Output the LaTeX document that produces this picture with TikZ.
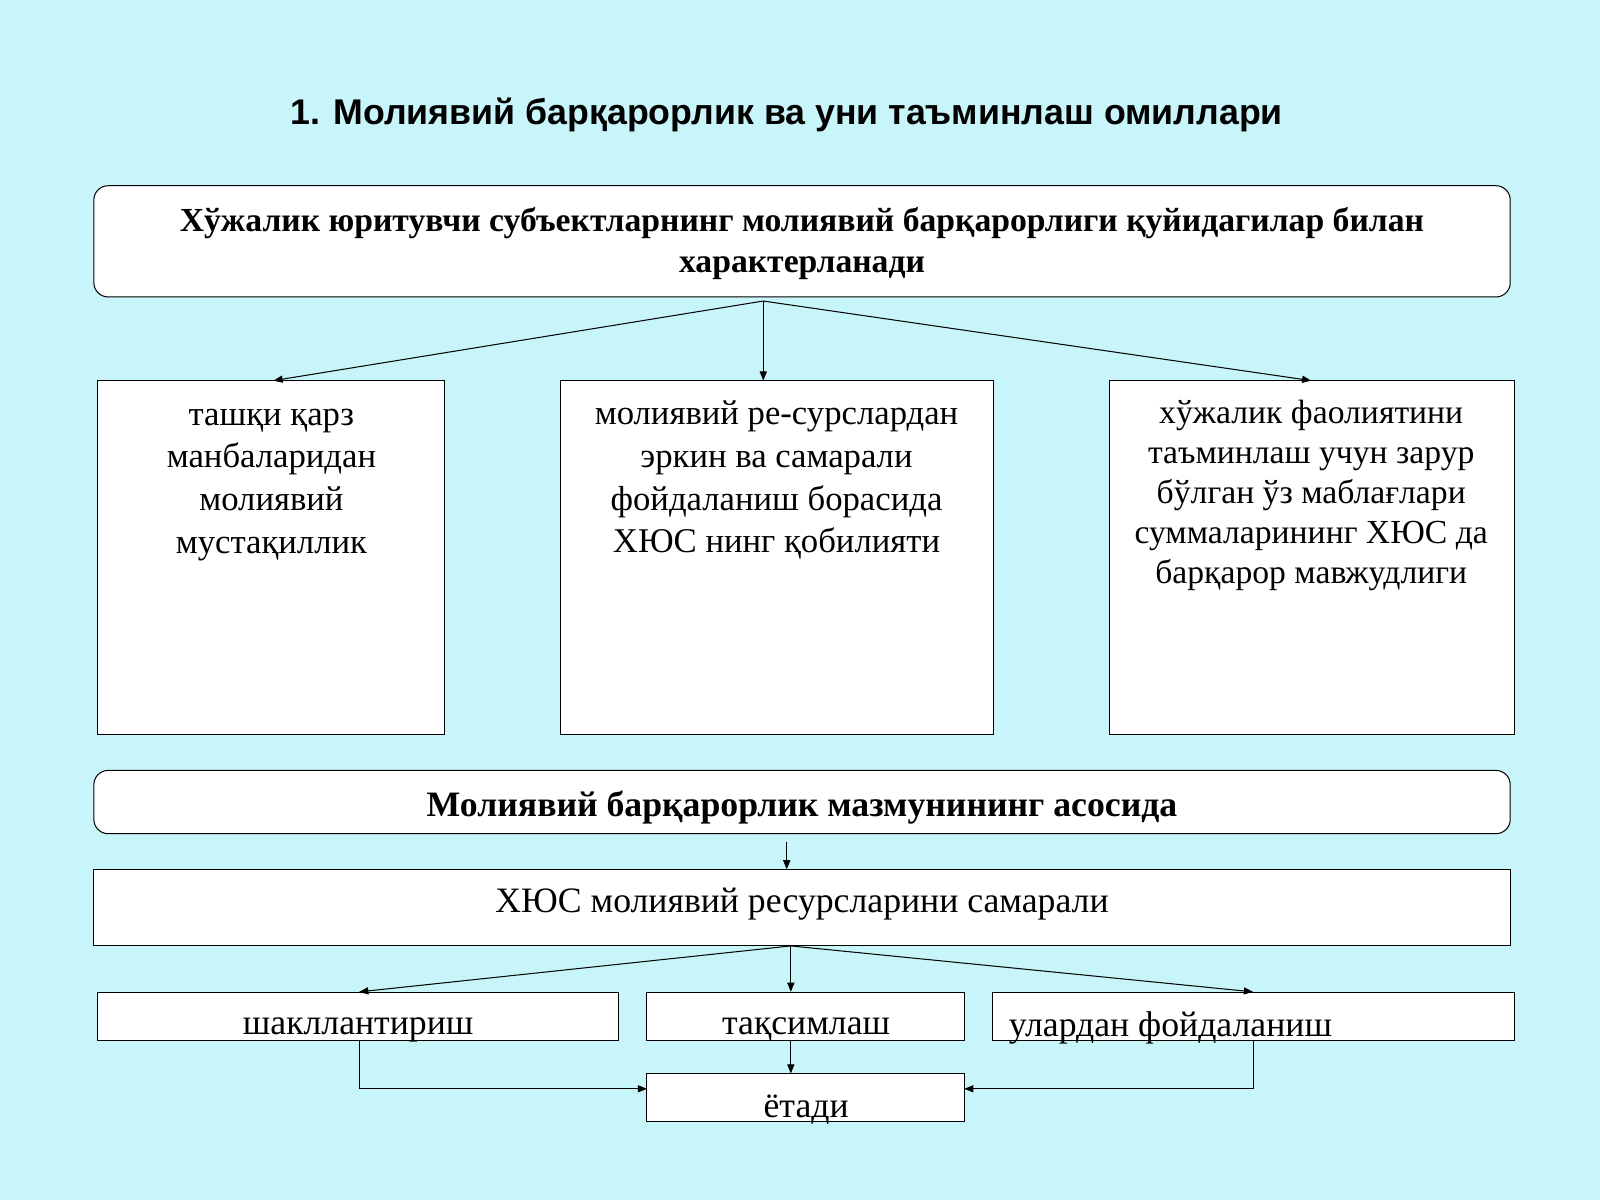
\documentclass[tikz,border=0pt]{standalone}
\usepackage{fontspec}
\setmainfont{Liberation Serif}
\setsansfont{Liberation Sans}
\usetikzlibrary{arrows.meta}
\begin{document}
\begin{tikzpicture}[x=1pt,y=-1pt,
  box/.style={draw=black,fill=white,line width=1pt},
  rbox/.style={box,rounded corners=14pt},
  arr/.style={-{Triangle[length=9pt,width=7pt]},line width=1pt},
  txt/.style={font=\fontsize{34}{42}\selectfont,align=center,anchor=north}]
\fill[fill={rgb,255:red,200;green,245;blue,250}] (0,0) rectangle (1568,1176);
\useasboundingbox (0,0) rectangle (1568,1176);
\node[font=\sffamily\bfseries\fontsize{35}{40}\selectfont] (title) at (771,113) {1. Молиявий барқарорлик ва уни таъминлаш омиллари};
\draw[rbox] (92,182) rectangle (1480,291);
\node[font=\bfseries\fontsize{33}{40}\selectfont,align=center] (top) at (786,239) {Хўжалик юритувчи субъектларнинг молиявий барқарорлиги қуйидагилар билан\\характерланади};
\coordinate (tp) at (748,295);
\draw[box] (96,373) rectangle (436,720);
\draw[box] (549,373) rectangle (974,720);
\draw[box] (1087,373) rectangle (1484,720);
\coordinate (b1) at (268,373); \coordinate (b2) at (748,373); \coordinate (b3) at (1285,373);
\node[txt] (t1) at (266,397) {ташқи қарз\\манбаларидан\\молиявий\\мустақиллик};
\node[txt] (t2) at (761,389) {молиявий ре-сурслардан\\эркин ва самарали\\фойдаланиш борасида\\ХЮС нинг қобилияти};
\node[txt,font=\fontsize{33}{39}\selectfont] (t3) at (1285,389) {хўжалик фаолиятини\\таъминлаш учун зарур\\бўлган ўз маблағлари\\суммаларининг ХЮС да\\барқарор мавжудлиги};
\draw[arr] (tp) -- (b1); \draw[arr] (tp) -- (b2); \draw[arr] (tp) -- (b3);
\draw[rbox] (92,755) rectangle (1480,817);
\node[font=\bfseries\fontsize{35}{40}\selectfont] (mid) at (786,791) {Молиявий барқарорлик мазмунининг асосида};
\coordinate (m1) at (771,825); \coordinate (m2) at (771,852);
\draw[arr] (m1) -- (m2);
\draw[box] (92,852) rectangle (1480,927);
\node[font=\fontsize{35}{40}\selectfont] (res) at (786,886) {ХЮС молиявий ресурсларини самарали};
\coordinate (rp) at (775,927);
\draw[box] (96,973) rectangle (606,1020);
\draw[box] (634,973) rectangle (945,1020);
\draw[box] (973,973) rectangle (1484,1020);
\draw[box] (634,1052) rectangle (945,1099);
\node[font=\fontsize{35}{40}\selectfont] (s1) at (351,1009) {шакллантириш};
\node[font=\fontsize{35}{40}\selectfont] (s2) at (790,1009) {тақсимлаш};
\node[font=\fontsize{35}{40}\selectfont] (s3) at (1147,1007) {улардан фойдаланиш};
\node[font=\fontsize{35}{40}\selectfont] (et) at (790,1087) {ётади};
\coordinate (c1) at (352,972); \coordinate (c2) at (775,972); \coordinate (c3) at (1228,972);
\draw[arr] (rp) -- (c1); \draw[arr] (rp) -- (c2); \draw[arr] (rp) -- (c3);
\draw[arr] (352,1020) |- (634,1067);
\draw[arr] (775,1020) -- (775,1052);
\draw[arr] (1228,1020) |- (945,1067);
\end{tikzpicture}
\end{document}
